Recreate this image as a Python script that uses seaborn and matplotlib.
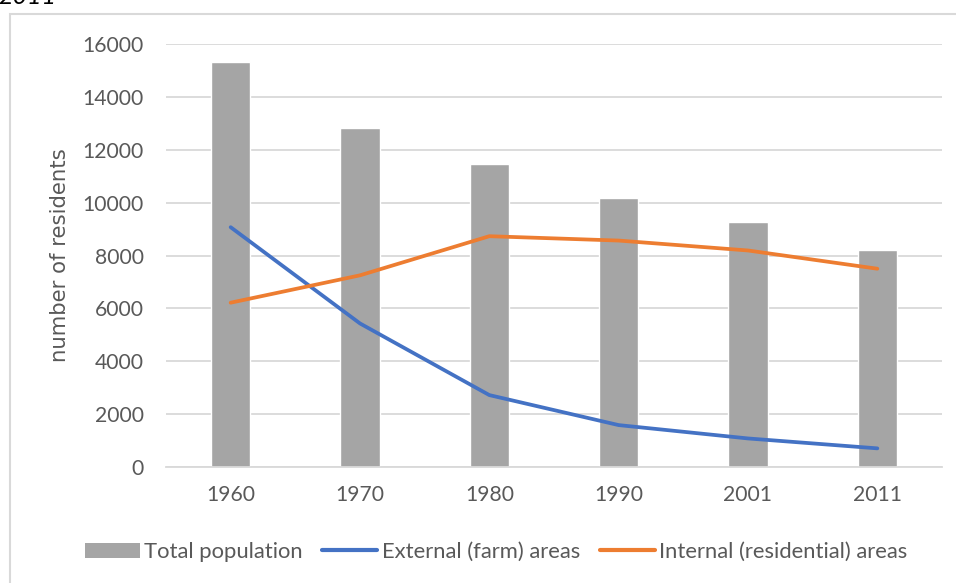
import numpy as np
import pandas as pd
import matplotlib
matplotlib.use("Agg")
import matplotlib.pyplot as plt
from matplotlib.patches import Patch, Rectangle
from matplotlib.lines import Line2D
import seaborn as sns

# Census years and resident counts
years = ["1960", "1970", "1980", "1990", "2001", "2011"]
total_population = [15320, 12830, 11470, 10180, 9270, 8215]
external_farm = [9070, 5430, 2720, 1585, 1080, 705]
internal_residential = [6215, 7250, 8730, 8565, 8190, 7500]
y_ticks = [0, 2000, 4000, 6000, 8000, 10000, 12000, 14000, 16000]

GRAY = "#A5A5A5"
BLUE = "#4472C4"
ORANGE = "#ED7D31"
TEXT = "#595959"
GRID = "#D9D9D9"

sns.set_theme(style="white")
plt.rcParams["font.family"] = ["Lato", "DejaVu Sans"]

df = pd.DataFrame({
    "year": years,
    "pos": np.arange(len(years)),
    "total": total_population,
    "external": external_farm,
    "internal": internal_residential,
})

fig = plt.figure(figsize=(9.56, 5.83), dpi=100)
ax = fig.add_axes([166 / 956, 1 - 467 / 583, 776 / 956, 423 / 583])

sns.barplot(data=df, x="year", y="total", color=GRAY, width=0.306,
            saturation=1, ax=ax, zorder=2)
sns.lineplot(data=df, x="pos", y="external", color=BLUE, linewidth=2.7,
             ax=ax, zorder=3, solid_capstyle="round", solid_joinstyle="round")
sns.lineplot(data=df, x="pos", y="internal", color=ORANGE, linewidth=2.7,
             ax=ax, zorder=3, solid_capstyle="round", solid_joinstyle="round")

ax.set_xlim(-0.5, len(years) - 0.5)
ax.set_ylim(0, 16000)
ax.set_yticks(y_ticks)
ax.set_yticklabels([str(t) for t in y_ticks])
ax.set_xticks(range(len(years)))
ax.set_xticklabels(years)
ax.set_xlabel("")
ax.set_ylabel("")
ax.grid(axis="y", color=GRID, linewidth=1.3, zorder=0)
ax.set_axisbelow(True)
for side in ["top", "right", "left"]:
    ax.spines[side].set_visible(False)
ax.spines["bottom"].set_color(GRID)
ax.spines["bottom"].set_linewidth(1.3)
ax.tick_params(axis="both", length=0, labelsize=15.2, labelcolor=TEXT)
ax.tick_params(axis="y", pad=16)
ax.tick_params(axis="x", pad=13)

fig.text(60 / 956, 1 - 255 / 583, "number of residents", rotation=90,
         ha="center", va="center", fontsize=15.3, color=TEXT,
         family=["DejaVu Sans"])

# Outer chart frame and the caption running off the top
fig.add_artist(Rectangle((9.5 / 956, -0.05), 1.1, 1 - 14 / 583 + 0.05,
                         transform=fig.transFigure, fill=False,
                         edgecolor=GRID, linewidth=1.5))
fig.text(-2 / 956, 1 - 4 / 583, "2011", ha="left", va="baseline",
         fontsize=18, color="black", style="italic")

handles = [
    Patch(facecolor=GRAY, edgecolor="none"),
    Line2D([], [], color=BLUE, linewidth=3),
    Line2D([], [], color=ORANGE, linewidth=3),
]
labels = ["Total population", "External (farm) areas", "Internal (residential) areas"]
fig.legend(handles, labels, loc="center", bbox_to_anchor=(496 / 956, 1 - 552 / 583),
           ncol=3, frameon=False, fontsize=15.8, labelcolor=TEXT,
           handlelength=2.5, handleheight=0.7, handletextpad=0.2,
           columnspacing=0.9, borderpad=0)

fig.savefig("out.png", dpi=100)
